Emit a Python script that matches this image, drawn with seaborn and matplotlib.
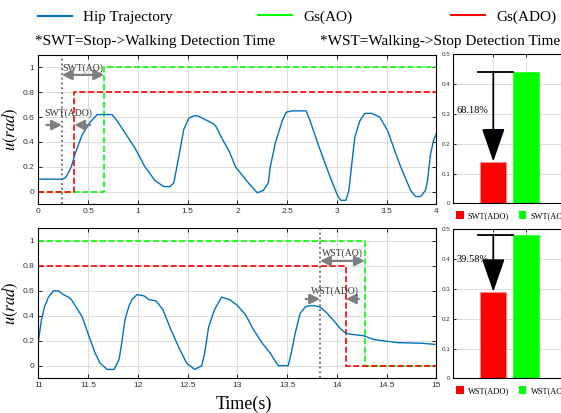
import numpy as np
import pandas as pd
import matplotlib.pyplot as plt
import seaborn as sns
from matplotlib.lines import Line2D
from matplotlib.patches import Patch

# hip trajectory, start of walking (0-4 s)
t_start = [0, 0.23, 0.27, 0.3, 0.33, 0.37, 0.44, 0.52, 0.59, 0.74, 0.79, 0.88, 0.97, 1.07,
           1.17, 1.26, 1.32, 1.36, 1.41, 1.46, 1.51, 1.56, 1.6, 1.65, 1.7, 1.75, 1.78, 1.85,
           1.92, 1.98, 2.03, 2.11, 2.2, 2.26, 2.31, 2.33, 2.38, 2.45, 2.49, 2.55, 2.69, 2.73,
           2.82, 2.93, 3.01, 3.04, 3.09, 3.12, 3.15, 3.18, 3.23, 3.28, 3.35, 3.43, 3.51, 3.58,
           3.64, 3.74, 3.79, 3.84, 3.89, 3.91, 3.94, 3.97, 4.0]
u_start = [0.1, 0.1, 0.11, 0.15, 0.2, 0.31, 0.46, 0.56, 0.62, 0.62, 0.57, 0.46, 0.35, 0.2,
           0.09, 0.04, 0.04, 0.07, 0.28, 0.5, 0.59, 0.61, 0.61, 0.59, 0.57, 0.55, 0.53, 0.42,
           0.32, 0.2, 0.15, 0.07, -0.01, 0.01, 0.07, 0.2, 0.39, 0.57, 0.64, 0.65, 0.65, 0.57,
           0.36, 0.12, -0.04, -0.07, -0.07, 0.01, 0.23, 0.44, 0.57, 0.63, 0.63, 0.6, 0.49, 0.33,
           0.2, 0.01, -0.04, -0.04, 0.01, 0.09, 0.3, 0.41, 0.47]

# hip trajectory, end of walking (11-15 s)
t_stop = [11.0, 11.03, 11.06, 11.1, 11.15, 11.2, 11.25, 11.3, 11.33, 11.37, 11.44, 11.51, 11.57,
          11.62, 11.69, 11.76, 11.81, 11.84, 11.87, 11.91, 11.94, 11.99, 12.06, 12.11, 12.18,
          12.25, 12.33, 12.42, 12.49, 12.57, 12.64, 12.67, 12.71, 12.77, 12.84, 12.92, 12.99,
          13.08, 13.16, 13.25, 13.33, 13.41, 13.51, 13.54, 13.58, 13.63, 13.68, 13.71, 13.78,
          13.83, 13.89, 13.98, 14.03, 14.09, 14.16, 14.27, 14.37, 14.51, 14.61, 14.85, 15.0]
u_stop = [0.2, 0.37, 0.47, 0.55, 0.6, 0.6, 0.57, 0.55, 0.53, 0.48, 0.39, 0.23, 0.1,
          0.02, -0.03, -0.03, 0.05, 0.2, 0.37, 0.48, 0.53, 0.57, 0.56, 0.53, 0.52,
          0.45, 0.29, 0.13, 0.02, -0.03, 0.0, 0.1, 0.31, 0.45, 0.55, 0.53, 0.49,
          0.41, 0.29, 0.18, 0.1, 0.0, 0.0, 0.1, 0.26, 0.42, 0.47, 0.48, 0.48,
          0.47, 0.43, 0.35, 0.3, 0.26, 0.25, 0.24, 0.21, 0.195, 0.185, 0.18, 0.17]

# detection instants (s)
swt_ref, swt_ado, swt_ao = 0.235, 0.36, 0.66
wst_ref, wst_ado, wst_ao = 13.83, 14.09, 14.28
ado_level, ao_level = 0.8, 1.0

# detection times for the bar charts
swt_labels = ['SWT(ADO)', 'SWT(AO)']
swt_values = [0.14, 0.44]
wst_labels = ['WST(ADO)', 'WST(AO)']
wst_values = [0.29, 0.48]

BLUE = '#0072BD'
GREEN = '#00FF00'
RED = '#FF0000'
GRAY = '#7f7f7f'

plt.rcParams['font.family'] = ['Liberation Serif', 'DejaVu Serif']
plt.rcParams['mathtext.fontset'] = 'stix'
plt.rcParams['axes.linewidth'] = 0.8
plt.rcParams['xtick.direction'] = 'in'
plt.rcParams['ytick.direction'] = 'in'

fig = plt.figure(figsize=(5.61, 4.13), dpi=100)
ax1 = fig.add_axes([0.0686, 0.506, 0.7094, 0.3608])
ax2 = fig.add_axes([0.0686, 0.0843, 0.7094, 0.3625])
bx1 = fig.add_axes([0.808, 0.5077, 0.2004, 0.3608])
bx2 = fig.add_axes([0.808, 0.084, 0.2004, 0.3608])

tick_font = dict(family='Liberation Sans', size=6, color='#333333')


def style_main(ax, x0, x1):
    ax.set_xlim(x0, x1)
    ax.set_ylim(-0.1, 1.1)
    ax.set_xticks(np.arange(x0, x1 + 0.01, 0.5))
    ax.set_xticklabels(['%g' % v for v in np.arange(x0, x1 + 0.01, 0.5)], **tick_font)
    ax.set_yticks(np.arange(0, 1.01, 0.2))
    ax.set_yticklabels(['%g' % round(v, 1) for v in np.arange(0, 1.01, 0.2)], **tick_font)
    ax.tick_params(top=True, right=True, length=3, width=0.6, pad=3)
    ax.grid(True, color='#dcdcdc', lw=0.7)
    ax.set_axisbelow(True)
    ax.set_ylabel('$u(rad)$', fontsize=12, labelpad=2)
    for s in ax.spines.values():
        s.set_color('black')


def gap_arrow(ax, x_from, x_to, y):
    ax.annotate('', xy=(x_to, y), xytext=(x_from, y),
                arrowprops=dict(arrowstyle='-|>,head_length=0.6,head_width=0.3', color=GRAY,
                                lw=1.6, mutation_scale=10, shrinkA=0, shrinkB=0))


def span_arrow(ax, x_from, x_to, y):
    ax.annotate('', xy=(x_to, y), xytext=(x_from, y),
                arrowprops=dict(arrowstyle='<|-|>,head_length=0.6,head_width=0.3', color=GRAY,
                                lw=1.6, mutation_scale=10, shrinkA=0, shrinkB=0))


# ---- top: stop -> walking ----
sns.lineplot(x=[0, swt_ao, 4], y=[0, ao_level, ao_level], ax=ax1, color=GREEN,
             drawstyle='steps-post', linestyle='--', lw=1.2)
sns.lineplot(x=[0, swt_ado, 4], y=[0, ado_level, ado_level], ax=ax1, color=RED,
             drawstyle='steps-post', linestyle='--', lw=1.2)
sns.lineplot(x=t_start, y=u_start, ax=ax1, color=BLUE, lw=1.0)
ax1.axvline(swt_ref, color='#666666', ls=':', lw=1.3)
style_main(ax1, 0, 4)

span_arrow(ax1, swt_ref, swt_ao, 0.94)
ax1.text((swt_ref + swt_ao) / 2, 0.995, 'SWT(AO)', ha='center', va='center', fontsize=7, color='#333333')
gap_arrow(ax1, 0.08, swt_ref, 0.536)
gap_arrow(ax1, 0.52, swt_ado, 0.536)
ax1.text(0.3, 0.63, 'SWT(ADO)', ha='center', va='center', fontsize=7, color='#333333')

# ---- bottom: walking -> stop ----
sns.lineplot(x=[11, wst_ao, 15], y=[ao_level, 0, 0], ax=ax2, color=GREEN,
             drawstyle='steps-post', linestyle='--', lw=1.2)
sns.lineplot(x=[11, wst_ado, 15], y=[ado_level, 0, 0], ax=ax2, color=RED,
             drawstyle='steps-post', linestyle='--', lw=1.2)
sns.lineplot(x=t_stop, y=u_stop, ax=ax2, color=BLUE, lw=1.0)
ax2.axvline(wst_ref, color='#666666', ls=':', lw=1.3)
style_main(ax2, 11, 15)
ax2.set_xlabel('Time(s)', fontsize=13)
ax2.xaxis.set_label_coords(0.516, -0.115)

span_arrow(ax2, wst_ref, wst_ao, 0.84)
ax2.text((wst_ref + wst_ao) / 2, 0.9, 'WST(AO)', ha='center', va='center', fontsize=7, color='#333333')
gap_arrow(ax2, 13.685, wst_ref, 0.535)
gap_arrow(ax2, 14.22, wst_ado, 0.535)
ax2.text(13.976, 0.6, 'WST(ADO)', ha='center', va='center', fontsize=7, color='#333333')


# ---- bar charts ----
def bar_panel(ax, labels, values, pct_y):
    df = pd.DataFrame({'case': labels, 'time': values})
    sns.barplot(data=df, x='case', y='time', hue='case', palette=[RED, GREEN],
                saturation=1, width=0.8, ax=ax, legend=False,
                edgecolor='#ff9999', linewidth=0.4)
    ax.patches[1].set_edgecolor(GREEN)
    ax.set_xlim(-1.235, 2.235)
    ax.set_ylim(0, 0.5)
    ax.set_xlabel('')
    ax.set_ylabel('')
    ax.set_xticks([0, 1])
    ax.set_xticklabels([])
    ax.set_yticks(np.arange(0, 0.51, 0.1))
    ax.set_yticklabels(['%g' % round(v, 1) for v in np.arange(0, 0.51, 0.1)],
                       family='Liberation Sans', size=4.5, color='#333333')
    ax.tick_params(top=True, right=True, length=2.5, width=0.6, pad=2)
    ax.grid(True, color='#dcdcdc', lw=0.7)
    ax.set_axisbelow(True)
    hi, lo = values[1], values[0]
    ax.plot([-0.48, 0.6], [hi, hi], color='black', lw=1.3)
    ax.annotate('', xy=(0, lo), xytext=(0, hi),
                arrowprops=dict(arrowstyle='-|>,head_length=1.3,head_width=0.45', color='black',
                                lw=1.3, mutation_scale=16, shrinkA=0, shrinkB=0))
    ax.text(-1.13, pct_y, '%.2f%%' % ((hi - lo) / hi * 100), fontsize=7.5, va='center', ha='left')
    handles = [Patch(facecolor=RED, label=labels[0]), Patch(facecolor=GREEN, label=labels[1])]
    ax.legend(handles=handles, loc='upper left', bbox_to_anchor=(-0.02, -0.02), ncol=2,
              frameon=False, fontsize=6, handlelength=0.9, handleheight=1.1,
              handletextpad=0.5, columnspacing=1.2, borderaxespad=0.2)


bar_panel(bx1, swt_labels, swt_values, 0.31)
bar_panel(bx2, wst_labels, wst_values, 0.40)

# ---- figure legend and notes ----
entries = [('Hip Trajectory', BLUE, 38), ('Gs(AO)', GREEN, 258), ('Gs(ADO)', RED, 451)]
for name, col, px in entries:
    fig.legend(handles=[Line2D([], [], color=col, lw=1.5)], labels=[name],
               loc='center left', bbox_to_anchor=(px / 561, 1 - 17 / 413),
               frameon=False, fontsize=11, handlelength=2.2, handletextpad=0.75,
               borderpad=0, borderaxespad=0)
fig.text(35 / 561, 1 - 42 / 413, '*SWT=Stop->Walking Detection Time', fontsize=11, va='center')
fig.text(320 / 561, 1 - 42 / 413, '*WST=Walking->Stop Detection Time', fontsize=11, va='center')

fig.savefig('out.png', dpi=100)
